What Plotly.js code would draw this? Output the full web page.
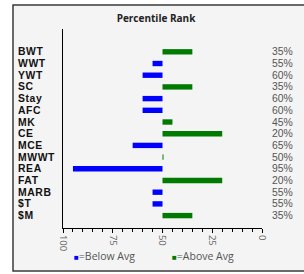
<!DOCTYPE html>
<html>
<head>
<meta charset="utf-8">
<script src="https://cdn.plot.ly/plotly-3.0.1.min.js"></script>
<style>html,body{margin:0;padding:0;background:#fff;}#chart{width:304px;height:274px;}</style>
</head>
<body>
<div id="chart"></div>
<script>
// Data
const categories = ["BWT","WWT","YWT","SC","Stay","AFC","MK","CE","MCE","MWWT","REA","FAT","MARB","$T","$M"];
const percentiles = [35,55,60,35,60,60,45,20,65,49.5,95,20,55,55,35];
const percentLabels = ["35%","55%","60%","35%","60%","60%","45%","20%","65%","50%","95%","20%","55%","55%","35%"];
const xTickVals = [100,75,50,25,0];
const xTickText = ["100","75","50","25","0"];
const avgLine = 50;

const BLUE = "#0000ff", GREEN = "#007a00";
const FONT = "Open Sans";
const ROWFONT = "Liberation Sans";

const below = {cats: [], len: []}, above = {cats: [], len: []};
categories.forEach((c, i) => {
  const p = percentiles[i];
  const tgt = p > avgLine ? below : above;
  tgt.cats.push(c); tgt.len.push(p - avgLine);
});

const traces = [
  {type: "bar", orientation: "h", y: below.cats, x: below.len, base: avgLine,
   marker: {color: BLUE}, width: 0.46, showlegend: false, hoverinfo: "skip"},
  {type: "bar", orientation: "h", y: above.cats, x: above.len, base: avgLine,
   marker: {color: GREEN}, width: 0.46, showlegend: false, hoverinfo: "skip"}
];

const L = 63, R = 262, T = 29, B = 228;
const W = R - L, H = B - T;
const px = x => (x - L) / W;
const py = y => (B - y) / H;

const annotations = [];
categories.forEach((c, i) => {
  annotations.push({xref: "paper", yref: "y", x: px(17), y: c, xanchor: "left", yanchor: "middle",
    text: '<span style="letter-spacing:0.6px">' + c + '</span>', showarrow: false, borderpad: 0,
    font: {family: ROWFONT, size: 10.4, color: "#111", weight: "bold"}});
  annotations.push({xref: "paper", yref: "y", x: px(294), y: c, xanchor: "right", yanchor: "middle",
    text: percentLabels[i], showarrow: false, borderpad: 0,
    font: {family: ROWFONT, size: 10.4, color: "#555"}});
});
annotations.push({xref: "paper", yref: "paper", x: px(72), y: py(255.5), xanchor: "left", yanchor: "middle",
  text: '<span style="color:' + BLUE + ';font-size:8px">■</span>=Below Avg', showarrow: false,
  font: {family: FONT, size: 10.5, color: "#555"}});
annotations.push({xref: "paper", yref: "paper", x: px(170), y: py(255.5), xanchor: "left", yanchor: "middle",
  text: '<span style="color:' + GREEN + ';font-size:8px">■</span>=Above Avg', showarrow: false,
  font: {family: FONT, size: 10.5, color: "#555"}});

const layout = {
  width: 304, height: 274,
  margin: {l: L, r: 304 - R, t: T, b: 274 - B, pad: 0},
  paper_bgcolor: "#ffffff",
  plot_bgcolor: "rgba(0,0,0,0)",
  title: {text: "Percentile Rank", x: 156 / 304, xanchor: "center", y: 1 - 18 / 274, yanchor: "middle",
    font: {family: FONT, size: 10, color: "#222", weight: "bold"}},
  xaxis: {range: [100, 0], tickvals: xTickVals, ticktext: xTickText, tickangle: 90,
    showgrid: false, zeroline: false, showline: true, linecolor: "#000", linewidth: 1,
    ticks: "outside", ticklen: 4, tickcolor: "#000",
    minor: {dtick: 5, ticks: "outside", ticklen: 3, tickcolor: "#000", showgrid: false},
    tickfont: {family: FONT, size: 9.5, color: "#666"}, fixedrange: true},
  yaxis: {type: "category", categoryorder: "array", categoryarray: categories,
    range: [15.06, -1.95], showticklabels: false, ticks: "", showgrid: false, zeroline: false,
    showline: true, linecolor: "#000", linewidth: 1, fixedrange: true},
  shapes: [{type: "rect", xref: "paper", yref: "paper", x0: px(13), x1: px(312), y0: py(271), y1: py(5),
    line: {color: "#3a3a3a", width: 1.5}, fillcolor: "#f4f4f4", layer: "below"}],
  annotations: annotations,
  showlegend: false
};

Plotly.newPlot("chart", traces, layout, {displayModeBar: false, staticPlot: true});
</script>
</body>
</html>
